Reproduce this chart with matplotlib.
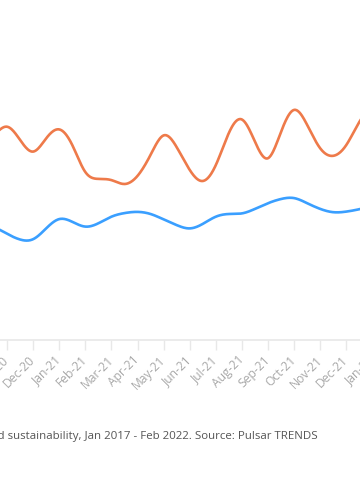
import numpy as np
import matplotlib
matplotlib.use("Agg")
import matplotlib.pyplot as plt

# ---- data (visible window of a Jan 2017 - Feb 2022 monthly chart) ----
month_labels = ["Oct-20", "Nov-20", "Dec-20", "Jan-21", "Feb-21", "Mar-21", "Apr-21",
                "May-21", "Jun-21", "Jul-21", "Aug-21", "Sep-21", "Oct-21", "Nov-21",
                "Dec-21", "Jan-22", "Feb-22"]
month_pos = list(range(-1, 16))          # Nov-20 = 0

# readings every half month, from Oct-20 (-1) to Dec-21 end (14)
sample_pos = [p / 2 for p in range(-2, 29)]
series_orange = [65.0, 68.3, 71.1, 66.7, 62.8, 67.2, 70.2, 65.0, 56.0, 53.7, 53.3,
                 52.0, 54.7, 61.7, 68.2, 64.3, 56.7, 53.0, 58.3, 69.0, 73.5, 66.1,
                 60.6, 69.4, 76.7, 71.7, 63.9, 61.4, 65.0, 72.7, 78.3]
series_blue = [39.3, 37.7, 35.4, 33.5, 33.6, 37.2, 40.3, 39.4, 37.8, 38.9, 41.1,
               42.3, 42.7, 42.0, 40.2, 38.3, 37.2, 38.7, 41.1, 42.0, 42.2, 43.7,
               45.6, 47.0, 47.3, 45.6, 43.7, 42.6, 42.8, 43.6, 44.7]
caption = "and sustainability, Jan 2017 - Feb 2022. Source: Pulsar TRENDS"

ORANGE = "#EE7A4A"
BLUE = "#3A9FFF"


def natural_spline(x, y, n=20):
    x = np.asarray(x, float)
    y = np.asarray(y, float)
    N = len(x)
    h = np.diff(x)
    A = np.zeros((N, N))
    b = np.zeros(N)
    A[0, 0] = A[-1, -1] = 1.0
    for i in range(1, N - 1):
        A[i, i - 1] = h[i - 1]
        A[i, i] = 2 * (h[i - 1] + h[i])
        A[i, i + 1] = h[i]
        b[i] = 6 * ((y[i + 1] - y[i]) / h[i] - (y[i] - y[i - 1]) / h[i - 1])
    M = np.linalg.solve(A, b)
    ox, oy = [], []
    t = np.linspace(0, 1, n, endpoint=False)
    for i in range(N - 1):
        xx = x[i] + t * h[i]
        a = x[i + 1] - xx
        c = xx - x[i]
        yy = (M[i] * a ** 3 / (6 * h[i]) + M[i + 1] * c ** 3 / (6 * h[i])
              + (y[i] / h[i] - M[i] * h[i] / 6) * a
              + (y[i + 1] / h[i] - M[i + 1] * h[i] / 6) * c)
        ox.append(xx)
        oy.append(yy)
    ox.append([x[-1]])
    oy.append([y[-1]])
    return np.concatenate(ox), np.concatenate(oy)


W, H = 360, 500
fig = plt.figure(figsize=(W / 100, H / 100), dpi=100)
fig.patch.set_facecolor("white")

# axes extend past the figure edges (reference is a crop of a wider chart)
px_per_month = 26.1
x0_px = 7.0
L_px, R_px = -40.0, 420.0
bottom_px, top_px = 340.0, 40.0
ax = fig.add_axes([L_px / W, 1 - bottom_px / H, (R_px - L_px) / W, (bottom_px - top_px) / H])
ax.set_xlim((L_px - x0_px) / px_per_month, (R_px - x0_px) / px_per_month)
ax.set_ylim(0, 100)

xs, ys = natural_spline(sample_pos, series_orange)
ax.plot(xs, ys, color=ORANGE, lw=1.9, solid_capstyle="round", zorder=3)
xs, ys = natural_spline(sample_pos, series_blue)
ax.plot(xs, ys, color=BLUE, lw=1.9, solid_capstyle="round", zorder=3)

for s in ("left", "right", "top"):
    ax.spines[s].set_visible(False)
ax.spines["bottom"].set_color("#e8e8e8")
ax.spines["bottom"].set_linewidth(1.2)
ax.set_yticks([])
ax.set_xticks(month_pos)
ax.set_xticklabels(month_labels, rotation=45, ha="right", va="center",
                   rotation_mode="anchor", fontsize=8.7, color="#a8a8a8",
                   family=["Open Sans", "DejaVu Sans"])
ax.tick_params(axis="x", length=7, width=1, color="#e8e8e8", pad=6)

fig.text(318 / W, 1 - 436 / H, caption, ha="right", va="center",
         fontsize=8.27, color="#555555", family=["Open Sans", "DejaVu Sans"])

fig.savefig("out.png", dpi=100, facecolor="white")
